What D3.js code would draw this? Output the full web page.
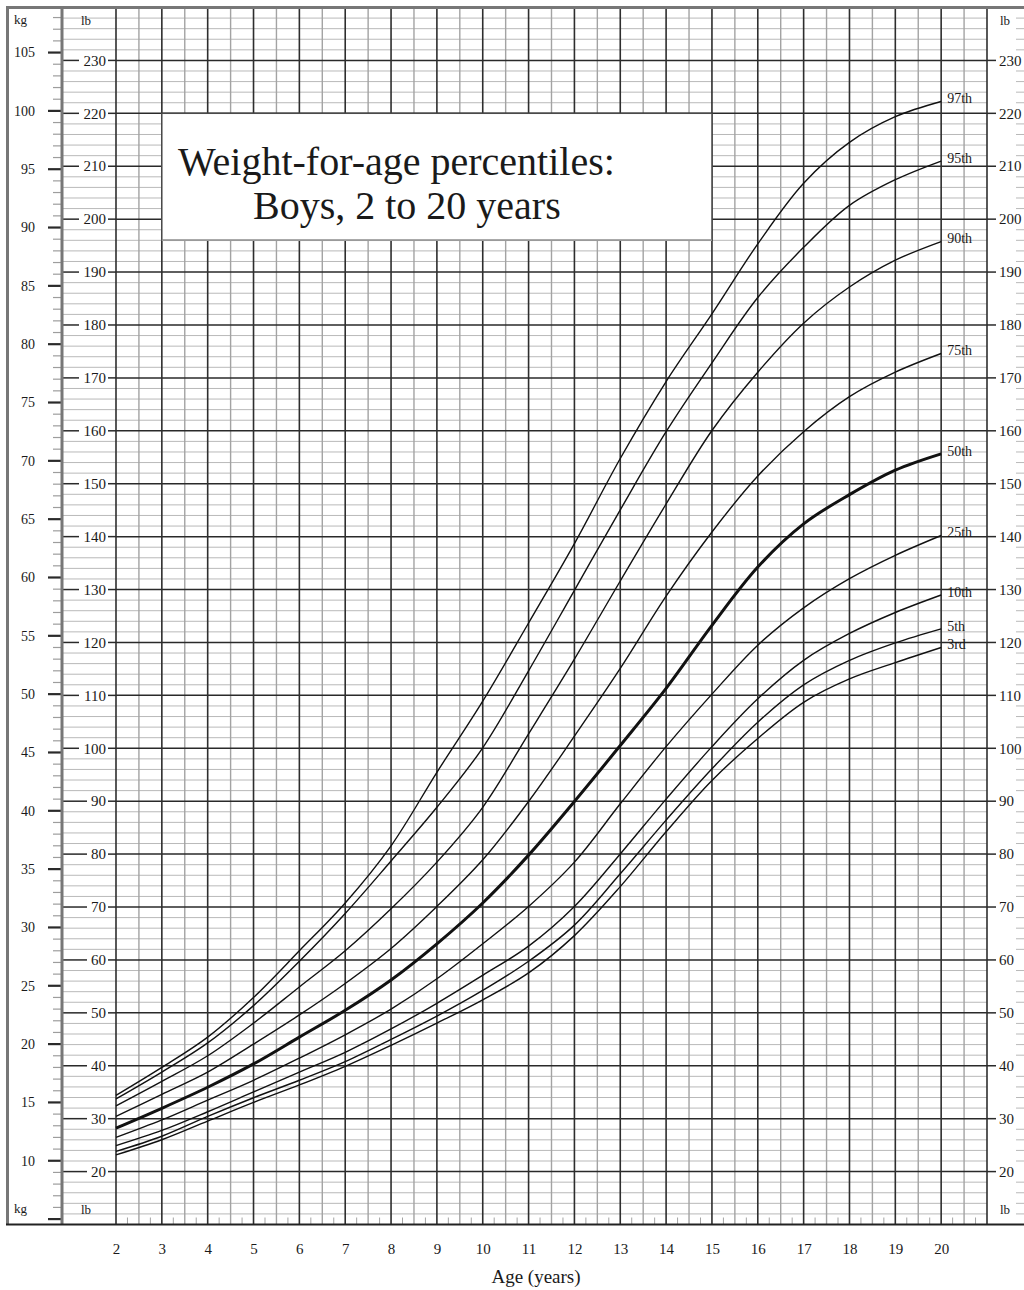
<!DOCTYPE html>
<html>
<head>
<meta charset="utf-8">
<script src="https://cdn.jsdelivr.net/npm/d3@7"></script>
<style>
body{margin:0;background:#fff}
svg text{font-family:"Liberation Serif","Times New Roman",serif;fill:#1a1a1a}
</style>
</head>
<body>
<svg id="chart" width="1024" height="1290"></svg>
<script>
// ages in years, weights in kg
var ages=[2,3,4,5,6,7,8,9,10,11,12,13,14,15,16,17,18,19,20]
var labels=["97th","95th","90th","75th","50th","25th","10th","5th","3rd"]
var p97=[15.6,18.0,20.6,24.0,28.0,32.1,37.0,43.3,49.4,56.1,62.9,70.2,76.8,82.6,88.6,93.8,97.3,99.5,100.8]
var p95=[15.3,17.6,20.1,23.3,27.1,31.2,35.7,40.3,45.4,52.0,58.9,65.8,72.5,78.4,84.0,88.3,91.9,94.1,95.7]
var p90=[14.7,16.8,19.0,21.8,24.9,28.0,31.6,35.6,40.3,46.6,53.0,59.7,66.3,72.6,77.6,81.8,84.9,87.2,88.8]
var p75=[13.8,15.7,17.6,20.0,22.5,25.2,28.2,31.8,35.8,40.8,46.4,52.2,58.4,63.9,68.7,72.5,75.5,77.6,79.2]
var p50=[12.8,14.5,16.3,18.3,20.6,22.9,25.5,28.6,32.1,36.2,40.8,45.6,50.5,55.9,60.9,64.6,67.1,69.2,70.6]
var p25=[12.0,13.5,15.2,16.9,18.8,20.8,23.0,25.6,28.6,31.8,35.6,40.6,45.5,50.0,54.2,57.4,59.9,61.9,63.6]
var p10=[11.3,12.6,14.2,15.9,17.6,19.3,21.3,23.5,25.9,28.4,31.8,36.3,41.0,45.5,49.6,52.9,55.2,57.0,58.5]
var p5=[10.8,12.1,13.8,15.4,16.9,18.5,20.4,22.4,24.6,27.1,30.2,34.6,39.2,43.6,47.6,50.8,52.9,54.4,55.6]
var p3=[10.5,11.8,13.4,15.0,16.5,18.1,19.9,21.8,23.8,26.1,29.3,33.5,38.2,42.6,46.2,49.3,51.3,52.7,54.0]
var series=[p97,p95,p90,p75,p50,p25,p10,p5,p3]

var kgTicks=[10,15,20,25,30,35,40,45,50,55,60,65,70,75,80,85,90,95,100,105]
var lbTicks=[20,30,40,50,60,70,80,90,100,110,120,130,140,150,160,170,180,190,200,210,220,230]
var ageTicks=[2,3,4,5,6,7,8,9,10,11,12,13,14,15,16,17,18,19,20]
var title=["Weight-for-age percentiles:","Boys, 2 to 20 years"]

var LB=2.20462
var svg=d3.select("#chart")
var x=d3.scaleLinear().domain([2,21]).range([116,987])
var y=d3.scaleLinear().domain([10,240]).range([1224.5,7.5])
function ykg(kg){return y(kg*LB)}
var top0=y(240), bot0=y(10)

var g=svg.append("g")

// minor lb grid (every 2 lb), runs through the lb column too
g.selectAll(".minh").data(d3.range(12,240,2).filter(function(d){return d%10!=0}))
  .enter().append("line")
  .attr("x1",62).attr("x2",987)
  .attr("y1",function(d){return y(d)}).attr("y2",function(d){return y(d)})
  .attr("stroke","#b9b9b9").attr("stroke-width",1)

// right column little ticks
g.selectAll(".minr").data(d3.range(12,240,2).filter(function(d){return d%10!=0}))
  .enter().append("line")
  .attr("x1",1016).attr("x2",1024)
  .attr("y1",function(d){return y(d)}).attr("y2",function(d){return y(d)})
  .attr("stroke","#b9b9b9").attr("stroke-width",1)

// half year lines
g.selectAll(".halfv").data(d3.range(2.5,21,1))
  .enter().append("line")
  .attr("x1",function(d){return x(d)}).attr("x2",function(d){return x(d)})
  .attr("y1",top0).attr("y2",bot0)
  .attr("stroke","#a3a3a3").attr("stroke-width",1.4)

// quarter year ticks at the bottom
g.selectAll(".qv").data(d3.range(2.25,21,0.5))
  .enter().append("line")
  .attr("x1",function(d){return x(d)}).attr("x2",function(d){return x(d)})
  .attr("y1",bot0-7).attr("y2",bot0)
  .attr("stroke","#a3a3a3").attr("stroke-width",1)

// major lb lines (every 10 lb)
g.selectAll(".majh").data(lbTicks)
  .enter().append("line")
  .attr("x1",116).attr("x2",987)
  .attr("y1",function(d){return y(d)}).attr("y2",function(d){return y(d)})
  .attr("stroke","#2a2a2a").attr("stroke-width",1.5)

// year lines
g.selectAll(".yearv").data(d3.range(2,22,1))
  .enter().append("line")
  .attr("x1",function(d){return x(d)}).attr("x2",function(d){return x(d)})
  .attr("y1",top0).attr("y2",bot0)
  .attr("stroke","#2e2e2e").attr("stroke-width",1.6)

// title box, age 3 to 15 and 196 to 220 lb
svg.append("rect")
  .attr("x",x(3)).attr("y",y(220))
  .attr("width",x(15)-x(3)).attr("height",y(196)-y(220))
  .attr("fill","#fff").attr("stroke","#4a4a4a").attr("stroke-width",1.4)
svg.append("line")
  .attr("x1",x(3)).attr("x2",x(15)).attr("y1",y(196)).attr("y2",y(196))
  .attr("stroke","#9a9a9a").attr("stroke-width",1.6)
svg.append("text").attr("x",178).attr("y",175)
  .style("font-size","40px").text(title[0])
svg.append("text").attr("x",253).attr("y",219)
  .style("font-size","40px").text(title[1])

// kg column ticks
svg.selectAll(".kgt").data(d3.range(5,109,1))
  .enter().append("line")
  .attr("x1",function(d){return d%5==0?48:53}).attr("x2",62)
  .attr("y1",function(d){return ykg(d)}).attr("y2",function(d){return ykg(d)})
  .attr("stroke",function(d){return d%5==0?"#2a2a2a":"#9d9d9d"})
  .attr("stroke-width",function(d){return d%5==0?2.2:1.2})
svg.selectAll(".kgl").data(kgTicks)
  .enter().append("text")
  .attr("x",35).attr("y",function(d){return ykg(d)}).attr("dy","0.35em")
  .attr("text-anchor","end").style("font-size","14px")
  .text(function(d){return d})

// left lb column: dashes and labels
svg.selectAll(".lbd1").data(lbTicks)
  .enter().append("line")
  .attr("x1",62).attr("x2",function(d){return 103-String(d).length*8})
  .attr("y1",function(d){return y(d)}).attr("y2",function(d){return y(d)})
  .attr("stroke","#2a2a2a").attr("stroke-width",1.5)
svg.selectAll(".lbd2").data(lbTicks)
  .enter().append("line")
  .attr("x1",108).attr("x2",116)
  .attr("y1",function(d){return y(d)}).attr("y2",function(d){return y(d)})
  .attr("stroke","#2a2a2a").attr("stroke-width",1.5)
svg.selectAll(".lbl").data(lbTicks)
  .enter().append("text")
  .attr("x",106).attr("y",function(d){return y(d)}).attr("dy","0.35em")
  .attr("text-anchor","end").style("font-size","15px")
  .text(function(d){return d})

// right lb column
svg.selectAll(".rbd").data(lbTicks)
  .enter().append("line")
  .attr("x1",987).attr("x2",996)
  .attr("y1",function(d){return y(d)}).attr("y2",function(d){return y(d)})
  .attr("stroke","#2a2a2a").attr("stroke-width",1.5)
svg.selectAll(".rbl").data(lbTicks)
  .enter().append("text")
  .attr("x",999).attr("y",function(d){return y(d)}).attr("dy","0.35em")
  .style("font-size","15px")
  .text(function(d){return d})

// unit labels
svg.append("text").attr("x",14).attr("y",24).style("font-size","13px").text("kg")
svg.append("text").attr("x",14).attr("y",1213).style("font-size","13px").text("kg")
svg.append("text").attr("x",81).attr("y",25).style("font-size","13px").text("lb")
svg.append("text").attr("x",81).attr("y",1214).style("font-size","13px").text("lb")
svg.append("text").attr("x",1000).attr("y",25).style("font-size","13px").text("lb")
svg.append("text").attr("x",1000).attr("y",1214).style("font-size","13px").text("lb")

// frame
svg.append("line").attr("x1",7).attr("x2",1024).attr("y1",top0).attr("y2",top0)
  .attr("stroke","#777").attr("stroke-width",3)
svg.append("line").attr("x1",7.5).attr("x2",7.5).attr("y1",6).attr("y2",bot0)
  .attr("stroke","#777").attr("stroke-width",3)
svg.append("line").attr("x1",62).attr("x2",62).attr("y1",6).attr("y2",bot0)
  .attr("stroke","#777").attr("stroke-width",3)
svg.append("line").attr("x1",6).attr("x2",1024).attr("y1",bot0).attr("y2",bot0)
  .attr("stroke","#222").attr("stroke-width",2)

// percentile curves
var line=d3.line()
  .x(function(d,i){return x(ages[i])})
  .y(function(d){return ykg(d)})
  .curve(d3.curveCatmullRom.alpha(0.5))
svg.selectAll(".curve").data(series)
  .enter().append("path")
  .attr("d",function(d){return line(d)})
  .attr("fill","none").attr("stroke","#111")
  .attr("stroke-width",function(d,i){return labels[i]=="50th"?3:1.4})

svg.selectAll(".plab").data(series)
  .enter().append("text")
  .attr("x",x(20)+6)
  .attr("y",function(d){return ykg(d[d.length-1])-3})
  .attr("dy","0.35em").style("font-size","14px")
  .text(function(d,i){return labels[i]})

// age axis
var ax=svg.append("g").attr("transform","translate(0,"+bot0+")")
  .call(d3.axisBottom(x).tickValues(ageTicks).tickSize(0).tickPadding(19))
ax.select(".domain").remove()
ax.selectAll("text").style("font-size","15px")
  .style("font-family","'Liberation Serif','Times New Roman',serif").attr("fill","#1a1a1a")

svg.append("text").attr("x",536).attr("y",1283).attr("text-anchor","middle")
  .style("font-size","19px").text("Age (years)")
</script>
</body>
</html>
